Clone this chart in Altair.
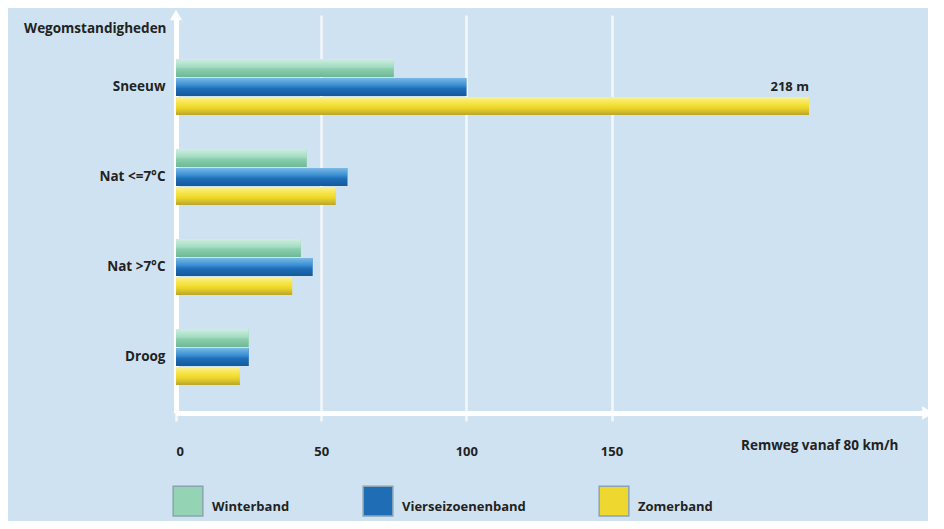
import altair as alt
import pandas as pd

categories = ["Sneeuw", "Nat <=7°C", "Nat >7°C", "Droog"]
series = ["Winterband", "Vierseizoenenband", "Zomerband"]
winterband = [75, 45, 43, 25]
vierseizoenenband = [100, 59, 47, 25]
zomerband = [218, 55, 40, 22]
x_ticks = [0, 50, 100, 150]
x_max = 259
label_218 = "218 m"

rows = []
for i, c in enumerate(categories):
    for s, vals in zip(series, [winterband, vierseizoenenband, zomerband]):
        rows.append({"cat": c, "serie": s, "val": vals[i]})
df = pd.DataFrame(rows)

solid = ["#94d3b4", "#1f6db5", "#eed830"]
grads = {
    "Winterband": [("#cdeee0", 0), ("#a3dcc2", 0.45), ("#8ccfae", 0.55), ("#6db895", 1)],
    "Vierseizoenenband": [("#7ab8e6", 0), ("#3a8fd2", 0.4), ("#1e6db7", 0.6), ("#14599a", 1)],
    "Zomerband": [("#fbf08e", 0), ("#f4e034", 0.45), ("#e9d12a", 0.65), ("#b9a52b", 1)],
}

FONT = "Open Sans"
TXT = "#222222"

yscale = alt.Scale(domain=categories, paddingInner=0.378, paddingOuter=0.4, align=0.611)
yoff = alt.YOffset("serie:N", sort=series, scale=alt.Scale(domain=series, paddingInner=0.06))
xscale = alt.Scale(domain=[0, x_max], nice=False)

base = alt.Chart(df)

bars = base.mark_bar(cornerRadius=0).encode(
    x=alt.X("val:Q", scale=xscale,
            axis=alt.Axis(values=x_ticks, title="Remweg vanaf 80 km/h", grid=True,
                          gridColor="#f4f7fa", gridWidth=2.5, domainColor="#ffffff",
                          domainWidth=5, tickColor="#f4f7fa", tickWidth=2.5, tickSize=8,
                          labelFont=FONT, labelFontWeight="bold", labelFontSize=13,
                          labelColor=TXT, labelPadding=24,
                          titleFont=FONT, titleFontWeight="bold", titleFontSize=13.5,
                          titleColor=TXT, titleAlign="right", titleAnchor="start",
                          titleX=722, titleY=32, titleBaseline="middle")),
    y=alt.Y("cat:N", sort=categories, scale=yscale,
            axis=alt.Axis(title="Wegomstandigheden", titleAngle=0, titleAlign="right",
                          titleX=-10, titleY=13, titleBaseline="middle",
                          titleFont=FONT, titleFontWeight="bold", titleFontSize=13.5,
                          titleColor=TXT, ticks=False, domainColor="#ffffff",
                          domainWidth=5, labelFont=FONT, labelFontWeight="bold",
                          labelFontSize=13.5, labelColor=TXT, labelPadding=11)),
    yOffset=yoff,
    color=alt.Color("serie:N", sort=series, scale=alt.Scale(domain=series, range=solid),
                    legend=alt.Legend(title=None, orient="none", legendX=-4, legendY=470,
                                      direction="horizontal", symbolType="square",
                                      symbolSize=880, symbolStrokeWidth=1.5,
                                      symbolStrokeColor="#8aa3b3", symbolOpacity=1,
                                      labelFont=FONT, labelFontWeight="bold",
                                      labelFontSize=13, labelColor=TXT,
                                      labelBaseline="top", labelOffset=8,
                                      columnPadding=70)),
)

grad_layers = []
for s in series:
    stops = [{"color": c, "offset": o} for c, o in grads[s]]
    g = {"gradient": "linear", "x1": 0, "y1": 0, "x2": 0, "y2": 1, "stops": stops}
    grad_layers.append(
        base.transform_filter(alt.datum.serie == s).mark_bar(fill=g).encode(
            x=alt.X("val:Q", scale=xscale),
            y=alt.Y("cat:N", sort=categories, scale=yscale),
            yOffset=yoff,
        )
    )

label = base.transform_filter(
    (alt.datum.cat == categories[0]) & (alt.datum.serie == series[2])
).mark_text(align="right", baseline="middle", font=FONT, fontWeight="bold",
            fontSize=13, color=TXT, dy=-19).encode(
    x=alt.X("val:Q", scale=xscale),
    y=alt.Y("cat:N", sort=categories, scale=yscale),
    yOffset=yoff,
    text=alt.value(label_218),
)

arrow_x = alt.Chart(pd.DataFrame({"v": [x_max]})).mark_point(
    shape="triangle-right", filled=True, color="#ffffff", size=180, opacity=1
).encode(x=alt.X("v:Q", scale=xscale), y=alt.value(398))

arrow_y = alt.Chart(pd.DataFrame({"v": [0]})).mark_point(
    shape="triangle-up", filled=True, color="#ffffff", size=150, opacity=1
).encode(x=alt.X("v:Q", scale=xscale), y=alt.value(0))

chart = alt.layer(bars, *grad_layers, label, arrow_x, arrow_y).properties(
    width=752, height=398,
    padding={"left": 168, "top": 7, "right": 0, "bottom": 108},
    autosize=alt.AutoSizeParams(type="none"),
    background="#cfe2f1",
).configure_view(stroke=None)

chart.save("out.html", embed_options={"renderer": "svg", "actions": False})
